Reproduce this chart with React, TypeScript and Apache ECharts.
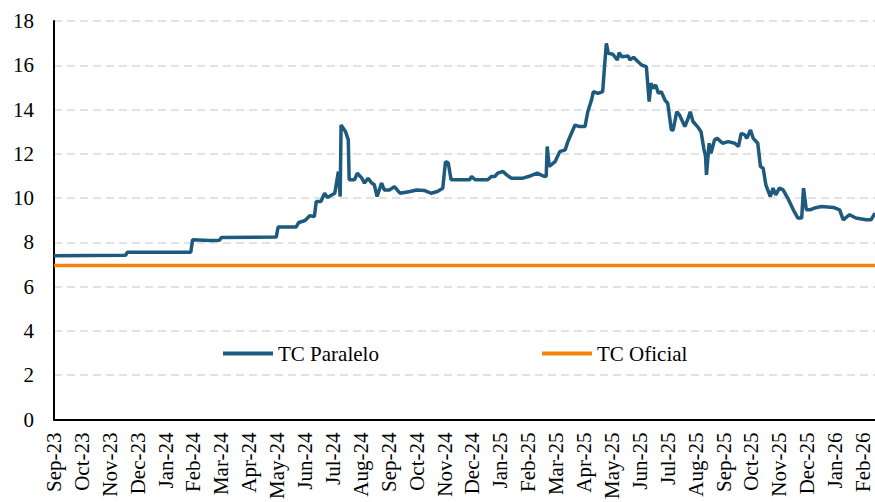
import React, { useEffect, useRef } from "react";
import * as echarts from "echarts";

const monthLabels = [
  "Sep-23", "Oct-23", "Nov-23", "Dec-23", "Jan-24", "Feb-24", "Mar-24", "Apr-24", "May-24", "Jun-24",
  "Jul-24", "Aug-24", "Sep-24", "Oct-24", "Nov-24", "Dec-24", "Jan-25", "Feb-25", "Mar-25", "Apr-25",
  "May-25", "Jun-25", "Jul-25", "Aug-25", "Sep-25", "Oct-25", "Nov-25", "Dec-25", "Jan-26", "Feb-26",
];

const yTicks = [0, 2, 4, 6, 8, 10, 12, 14, 16, 18];

const paraleloDates = [
  "2023-09-01", "2023-11-18", "2023-11-20", "2024-01-29", "2024-01-31", "2024-02-18", "2024-02-28", "2024-03-01",
  "2024-04-30", "2024-05-02", "2024-05-22", "2024-05-25", "2024-06-01", "2024-06-06", "2024-06-11", "2024-06-13",
  "2024-06-18", "2024-06-22", "2024-06-25", "2024-07-03", "2024-07-07", "2024-07-09", "2024-07-10", "2024-07-15",
  "2024-07-18", "2024-07-19", "2024-07-25", "2024-07-28", "2024-08-02", "2024-08-05", "2024-08-09", "2024-08-13",
  "2024-08-16", "2024-08-19", "2024-08-24", "2024-08-27", "2024-09-02", "2024-09-07", "2024-09-13", "2024-09-24",
  "2024-10-01", "2024-10-10", "2024-10-17", "2024-10-24", "2024-10-30", "2024-11-02", "2024-11-05", "2024-11-08",
  "2024-11-28", "2024-11-30", "2024-12-04", "2024-12-18", "2024-12-22", "2024-12-26", "2024-12-29", "2025-01-04",
  "2025-01-08", "2025-01-13", "2025-01-26", "2025-02-03", "2025-02-10", "2025-02-16", "2025-02-19", "2025-02-20",
  "2025-02-22", "2025-02-28", "2025-03-05", "2025-03-11", "2025-03-14", "2025-03-18", "2025-03-22", "2025-03-27",
  "2025-04-02", "2025-04-05", "2025-04-09", "2025-04-11", "2025-04-16", "2025-04-21", "2025-04-23", "2025-04-25",
  "2025-04-27", "2025-05-02", "2025-05-07", "2025-05-09", "2025-05-12", "2025-05-19", "2025-05-21", "2025-05-25",
  "2025-05-30", "2025-06-03", "2025-06-08", "2025-06-11", "2025-06-13", "2025-06-15", "2025-06-18", "2025-06-21",
  "2025-06-24", "2025-06-28", "2025-07-01", "2025-07-05", "2025-07-07", "2025-07-11", "2025-07-14", "2025-07-20",
  "2025-07-23", "2025-07-26", "2025-07-29", "2025-08-03", "2025-08-07", "2025-08-10", "2025-08-12", "2025-08-13",
  "2025-08-16", "2025-08-18", "2025-08-22", "2025-08-25", "2025-08-31", "2025-09-06", "2025-09-13", "2025-09-17",
  "2025-09-20", "2025-09-24", "2025-09-26", "2025-09-30", "2025-10-03", "2025-10-08", "2025-10-11", "2025-10-14",
  "2025-10-17", "2025-10-22", "2025-10-25", "2025-10-28", "2025-11-01", "2025-11-05", "2025-11-10", "2025-11-16",
  "2025-11-21", "2025-11-25", "2025-11-27", "2025-11-30", "2025-12-04", "2025-12-09", "2025-12-17", "2025-12-30",
  "2026-01-06", "2026-01-10", "2026-01-17", "2026-01-24", "2026-02-04", "2026-02-09", "2026-02-13",
];

const paraleloValues = [
  7.40, 7.42, 7.56, 7.56, 8.12, 8.09, 8.10, 8.22,
  8.24, 8.69, 8.69, 8.90, 8.99, 9.20, 9.17, 9.85,
  9.85, 10.22, 10.03, 10.22, 11.20, 10.07, 13.30, 13.00,
  12.63, 10.83, 10.83, 11.13, 10.90, 10.68, 10.90, 10.68,
  10.60, 10.07, 10.68, 10.37, 10.37, 10.52, 10.22, 10.30,
  10.37, 10.34, 10.22, 10.30, 10.45, 11.65, 11.58, 10.83,
  10.83, 10.98, 10.83, 10.83, 10.98, 10.98, 11.13, 11.20,
  11.05, 10.90, 10.90, 11.00, 11.13, 11.00, 10.98, 12.33,
  11.43, 11.65, 12.10, 12.18, 12.55, 12.93, 13.30, 13.23,
  13.23, 13.90, 14.43, 14.81, 14.73, 14.81, 15.94, 16.99,
  16.54, 16.50, 16.24, 16.57, 16.39, 16.42, 16.24, 16.36,
  16.16, 16.01, 15.94, 14.36, 15.19, 14.96, 15.11, 14.73,
  14.81, 14.43, 14.28, 13.08, 13.08, 13.90, 13.76, 13.23,
  13.53, 13.90, 13.46, 13.23, 13.00, 12.25, 11.88, 11.05,
  12.48, 12.03, 12.63, 12.70, 12.48, 12.55, 12.48, 12.33,
  12.93, 12.85, 12.70, 13.08, 12.70, 12.48, 11.43, 11.35,
  10.60, 10.07, 10.45, 10.15, 10.45, 10.37, 10.00, 9.47,
  9.10, 9.10, 10.45, 9.47, 9.47, 9.55, 9.62, 9.58,
  9.47, 9.02, 9.25, 9.10, 9.02, 9.02, 9.32,
];

const oficialDates = ["2023-09-01", "2026-02-13"];
const oficialValues = [6.96, 6.96];

function toPos(s: string): number {
  const [y, m, d] = s.split("-").map(Number);
  const dim = new Date(y, m, 0).getDate();
  return (y - 2023) * 12 + (m - 9) + (d - 1) / dim;
}

const FONT = "Liberation Serif";

export default function App() {
  const ref = useRef<HTMLDivElement>(null);
  useEffect(() => {
    if (!ref.current) return;
    const chart = echarts.init(ref.current, undefined, { renderer: "svg" });
    const xMax = toPos(paraleloDates[paraleloDates.length - 1]);
    const legendBase = {
      top: 343,
      padding: 0,
      icon: "rect",
      itemWidth: 50,
      itemHeight: 4,
      itemGap: 0,
      textStyle: { fontFamily: FONT, fontSize: 21, color: "#000", padding: [0, 0, 0, 0] },
    };
    chart.setOption({
      animation: false,
      backgroundColor: "#fff",
      grid: { left: 54, right: 0, top: 21, bottom: 82, containLabel: false },
      legend: [
        { ...legendBase, data: ["TC Paralelo"], left: 223 },
        { ...legendBase, data: ["TC Oficial"], left: 542 },
      ],
      xAxis: {
        type: "value",
        min: 0,
        max: xMax,
        interval: 1,
        axisLine: { show: true, lineStyle: { color: "#000", width: 2 } },
        axisTick: { show: false },
        splitLine: { show: false },
        axisLabel: {
          rotate: 90,
          margin: 13,
          fontFamily: FONT,
          fontSize: 21,
          color: "#000",
          showMaxLabel: true,
          formatter: (v: number) => {
            const r = Math.round(v);
            return Math.abs(v - r) < 1e-6 && monthLabels[r] ? monthLabels[r] : "";
          },
        },
      },
      yAxis: {
        type: "value",
        min: yTicks[0],
        max: yTicks[yTicks.length - 1],
        interval: 2,
        axisLine: { show: true, lineStyle: { color: "#000", width: 2 } },
        axisTick: { show: false },
        axisLabel: { fontFamily: FONT, fontSize: 21, color: "#000", margin: 20 },
        splitLine: { show: true, lineStyle: { color: "#D9D9D9", width: 1.5, type: [8, 5] } },
      },
      series: [
        {
          name: "TC Paralelo",
          type: "line",
          showSymbol: false,
          symbol: "none",
          lineStyle: { color: "#1D5A7E", width: 3.5 },
          itemStyle: { color: "#1D5A7E" },
          data: paraleloDates.map((d, i) => [toPos(d), paraleloValues[i]]),
          z: 3,
        },
        {
          name: "TC Oficial",
          type: "line",
          showSymbol: false,
          symbol: "none",
          lineStyle: { color: "#F4820F", width: 3.5 },
          itemStyle: { color: "#F4820F" },
          data: oficialDates.map((d, i) => [toPos(d), oficialValues[i]]),
          z: 2,
        },
      ],
    });
    return () => chart.dispose();
  }, []);
  return <div ref={ref} style={{ width: 875, height: 502, position: "absolute", left: 0, top: 0 }} />;
}
